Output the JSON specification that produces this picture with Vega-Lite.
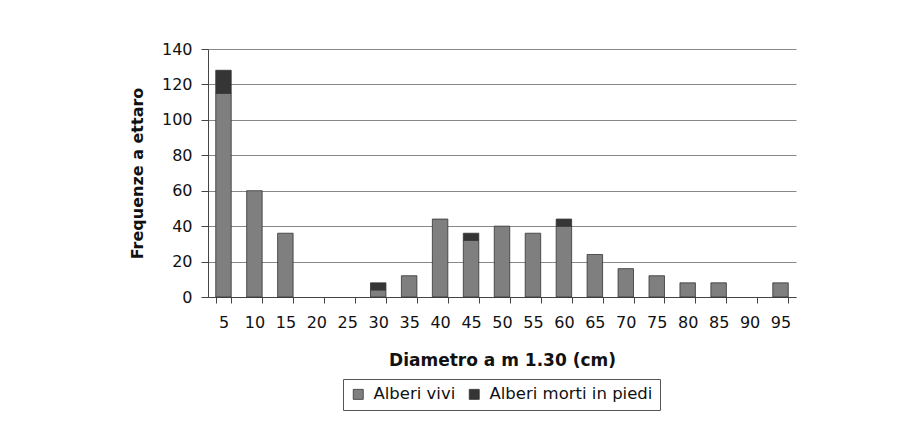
{
  "$schema": "https://vega.github.io/schema/vega-lite/v6.json",
  "width": 588,
  "height": 248,
  "autosize": "none",
  "padding": {"left": 208, "top": 49, "right": 113, "bottom": 139},
  "background": "white",
  "config": {
    "font": "DejaVu Sans",
    "view": {"stroke": null},
    "axis": {"labelFont": "DejaVu Sans", "titleFont": "DejaVu Sans", "labelColor": "#111", "titleColor": "#111"},
    "legend": {"labelFont": "DejaVu Sans"}
  },
  "data": {
    "values": [
      {"d": 5, "tipo": "Alberi vivi", "n": 115}, {"d": 5, "tipo": "Alberi morti in piedi", "n": 13},
      {"d": 10, "tipo": "Alberi vivi", "n": 60}, {"d": 10, "tipo": "Alberi morti in piedi", "n": 0},
      {"d": 15, "tipo": "Alberi vivi", "n": 36}, {"d": 15, "tipo": "Alberi morti in piedi", "n": 0},
      {"d": 20, "tipo": "Alberi vivi", "n": 0}, {"d": 20, "tipo": "Alberi morti in piedi", "n": 0},
      {"d": 25, "tipo": "Alberi vivi", "n": 0}, {"d": 25, "tipo": "Alberi morti in piedi", "n": 0},
      {"d": 30, "tipo": "Alberi vivi", "n": 4}, {"d": 30, "tipo": "Alberi morti in piedi", "n": 4},
      {"d": 35, "tipo": "Alberi vivi", "n": 12}, {"d": 35, "tipo": "Alberi morti in piedi", "n": 0},
      {"d": 40, "tipo": "Alberi vivi", "n": 44}, {"d": 40, "tipo": "Alberi morti in piedi", "n": 0},
      {"d": 45, "tipo": "Alberi vivi", "n": 32}, {"d": 45, "tipo": "Alberi morti in piedi", "n": 4},
      {"d": 50, "tipo": "Alberi vivi", "n": 40}, {"d": 50, "tipo": "Alberi morti in piedi", "n": 0},
      {"d": 55, "tipo": "Alberi vivi", "n": 36}, {"d": 55, "tipo": "Alberi morti in piedi", "n": 0},
      {"d": 60, "tipo": "Alberi vivi", "n": 40}, {"d": 60, "tipo": "Alberi morti in piedi", "n": 4},
      {"d": 65, "tipo": "Alberi vivi", "n": 24}, {"d": 65, "tipo": "Alberi morti in piedi", "n": 0},
      {"d": 70, "tipo": "Alberi vivi", "n": 16}, {"d": 70, "tipo": "Alberi morti in piedi", "n": 0},
      {"d": 75, "tipo": "Alberi vivi", "n": 12}, {"d": 75, "tipo": "Alberi morti in piedi", "n": 0},
      {"d": 80, "tipo": "Alberi vivi", "n": 8}, {"d": 80, "tipo": "Alberi morti in piedi", "n": 0},
      {"d": 85, "tipo": "Alberi vivi", "n": 8}, {"d": 85, "tipo": "Alberi morti in piedi", "n": 0},
      {"d": 90, "tipo": "Alberi vivi", "n": 0}, {"d": 90, "tipo": "Alberi morti in piedi", "n": 0},
      {"d": 95, "tipo": "Alberi vivi", "n": 8}, {"d": 95, "tipo": "Alberi morti in piedi", "n": 0}
    ]
  },
  "mark": {"type": "bar", "stroke": "#333", "strokeWidth": 0.8},
  "transform": [{"filter": "datum.n > 0"}],
  "encoding": {
    "x": {
      "field": "d",
      "type": "ordinal",
      "scale": {"domain": [5,10,15,20,25,30,35,40,45,50,55,60,65,70,75,80,85,90,95], "paddingInner": 0.5, "paddingOuter": 0.25},
      "axis": {
        "title": "Diametro a m 1.30 (cm)",
        "titleFontSize": 17,
        "titleFontWeight": "bold",
        "titlePadding": 22,
        "labelAngle": 0,
        "labelFontSize": 16,
        "labelPadding": 11,
        "tickBand": "extent",
        "tickSize": 6,
        "tickColor": "#444",
        "domainColor": "#444",
        "grid": false
      }
    },
    "y": {
      "field": "n",
      "type": "quantitative",
      "stack": "zero",
      "scale": {"domain": [0, 140], "nice": false},
      "axis": {
        "title": "Frequenze a ettaro",
        "titleFontSize": 16,
        "titleFontWeight": "bold",
        "titlePadding": 16,
        "values": [0,20,40,60,80,100,120,140],
        "labelFontSize": 16,
        "labelPadding": 9,
        "tickSize": 7,
        "tickColor": "#444",
        "domainColor": "#444",
        "grid": true,
        "gridColor": "#888",
        "gridWidth": 1.2
      }
    },
    "color": {
      "field": "tipo",
      "type": "nominal",
      "scale": {"domain": ["Alberi vivi", "Alberi morti in piedi"], "range": ["#7f7f7f", "#353535"]},
      "legend": {
        "title": null,
        "orient": "none",
        "direction": "horizontal",
        "legendX": 135,
        "legendY": 330,
        "symbolType": "square",
        "symbolSize": 100,
        "symbolStrokeColor": "#333",
        "symbolStrokeWidth": 0.8,
        "labelFontSize": 16.5,
        "labelLimit": 400,
        "labelColor": "#111",
        "labelOffset": 7,
        "columnPadding": 10,
        "strokeColor": "#555",
        "padding": 7
      }
    },
    "order": {"field": "tipo", "sort": "descending"}
  }
}
